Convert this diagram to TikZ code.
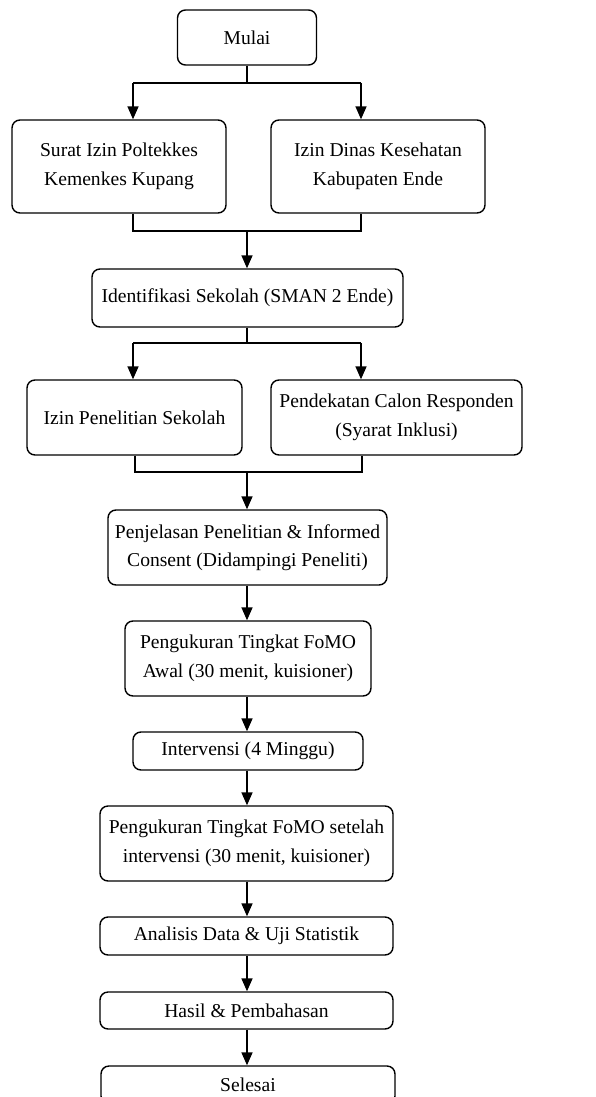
\documentclass[tikz,border=0pt]{standalone}
\usepackage{fontspec}
\setmainfont{Liberation Serif}
\usepackage{tikz}
\usetikzlibrary{arrows.meta}

\begin{document}
\begin{tikzpicture}[x=1pt, y=-1pt,
    flowbox/.style={draw, line width=1.4pt, rounded corners=8pt, align=center, inner sep=2pt,
        font=\fontsize{19.6}{28.5}\selectfont},
    arr/.style={line width=1.6pt, -{Triangle[length=13pt, width=11pt]}},
    ln/.style={line width=1.6pt}]
    \path[use as bounding box, clip] (0,0) rectangle (596,1097);

    % the boxes, placed at their centres
    \node[flowbox, minimum width=139pt, minimum height=55pt] (mulai) at (247,37.5) {Mulai};
    \node[flowbox, minimum width=214pt, minimum height=93pt] (surat) at (119,166.5) {Surat Izin Poltekkes\\Kemenkes Kupang};
    \node[flowbox, minimum width=214pt, minimum height=93pt] (dinas) at (378,166.5) {Izin Dinas Kesehatan\\Kabupaten Ende};
    \node[flowbox, minimum width=311pt, minimum height=58pt] (ident) at (247.5,298) {Identifikasi Sekolah (SMAN 2 Ende)};
    \node[flowbox, minimum width=215pt, minimum height=75pt] (izin) at (134.5,417.5) {Izin Penelitian Sekolah};
    \node[flowbox, minimum width=251pt, minimum height=75pt, inner sep=0pt] (dekat) at (396.5,417.5) {Pendekatan Calon Responden\\(Syarat Inklusi)};
    \node[flowbox, minimum width=279pt, minimum height=75pt] (jelas) at (247.5,547.5) {Penjelasan Penelitian \& Informed\\Consent (Didampingi Peneliti)};
    \node[flowbox, minimum width=246pt, minimum height=75pt] (awal) at (248,658.5) {Pengukuran Tingkat FoMO\\Awal (30 menit, kuisioner)};
    \node[flowbox, minimum width=230pt, minimum height=38pt] (interv) at (248,751) {Intervensi (4 Minggu)};
    \node[flowbox, minimum width=293pt, minimum height=75pt] (akhir) at (246.5,843.5) {Pengukuran Tingkat FoMO setelah\\intervensi (30 menit, kuisioner)};
    \node[flowbox, minimum width=293pt, minimum height=38pt] (analisis) at (246.5,936) {Analisis Data \& Uji Statistik};
    \node[flowbox, minimum width=293pt, minimum height=37pt] (hasil) at (246.5,1010.5) {Hasil \& Pembahasan};
    \node[flowbox, minimum width=294pt, minimum height=38pt] (selesai) at (248,1085) {Selesai};

    % junction points of the forks
    \coordinate (fa1) at (133,83);   \coordinate (fa2) at (361,83);
    \coordinate (fb1) at (133,231);  \coordinate (fb2) at (361,231);
    \coordinate (fc1) at (133,343);  \coordinate (fc2) at (361,343);
    \coordinate (fd1) at (135,472);  \coordinate (fd2) at (362,472);
    \coordinate (trunk) at (247,0);

    % Mulai -> two permits
    \draw[ln] (trunk |- mulai.south) -- (trunk |- fa1);
    \draw[ln] (fa1) -- (fa2);
    \draw[arr] (fa1) -- (fa1 |- surat.north);
    \draw[arr] (fa2) -- (fa2 |- dinas.north);

    % permits -> Identifikasi
    \draw[ln] (fb1 |- surat.south) -- (fb1) -- (fb2) -- (fb2 |- dinas.south);
    \draw[arr] (trunk |- fb1) -- (trunk |- ident.north);

    % Identifikasi -> two branches
    \draw[ln] (trunk |- ident.south) -- (trunk |- fc1);
    \draw[ln] (fc1) -- (fc2);
    \draw[arr] (fc1) -- (fc1 |- izin.north);
    \draw[arr] (fc2) -- (fc2 |- dekat.north);

    % branches -> Penjelasan
    \draw[ln] (fd1 |- izin.south) -- (fd1) -- (fd2) -- (fd2 |- dekat.south);
    \draw[arr] (trunk |- fd1) -- (trunk |- jelas.north);

    % straight chain down
    \draw[arr] (trunk |- jelas.south) -- (trunk |- awal.north);
    \draw[arr] (trunk |- awal.south) -- (trunk |- interv.north);
    \draw[arr] (trunk |- interv.south) -- (trunk |- akhir.north);
    \draw[arr] (trunk |- akhir.south) -- (trunk |- analisis.north);
    \draw[arr] (trunk |- analisis.south) -- (trunk |- hasil.north);
    \draw[arr] (trunk |- hasil.south) -- (trunk |- selesai.north);
\end{tikzpicture}
\end{document}
